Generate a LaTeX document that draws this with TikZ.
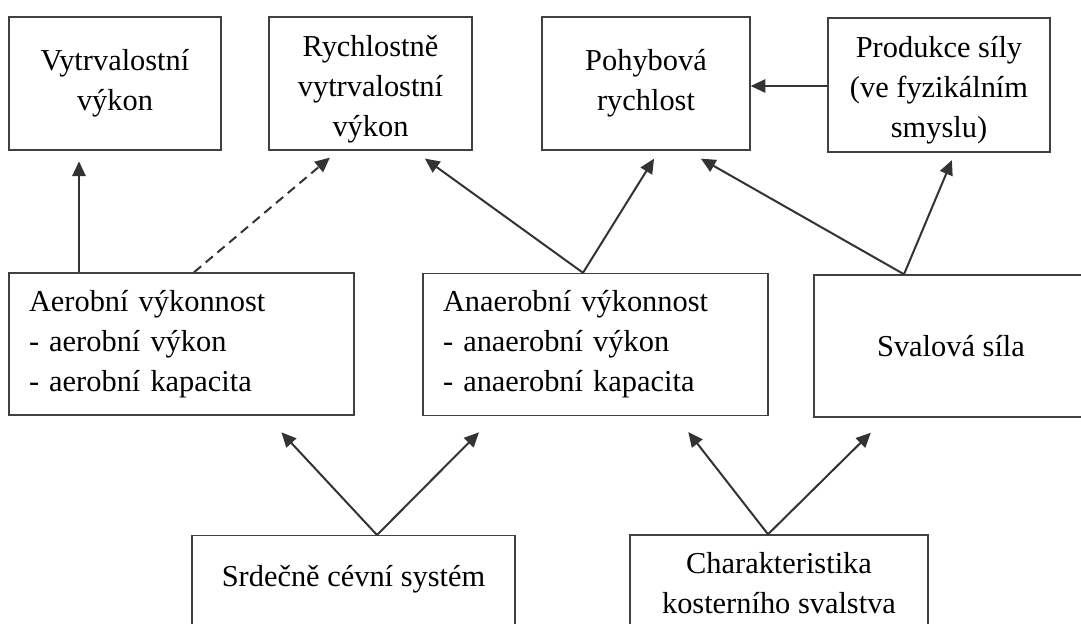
\documentclass[tikz,border=0pt]{standalone}
\usepackage{fontspec}
\setmainfont{Liberation Serif}
\usetikzlibrary{arrows.meta}

\begin{document}
\begin{tikzpicture}[x=0.75pt, y=-0.75pt,
        every node/.style={font=\fontsize{22.8}{30}\selectfont},
        box/.style={draw=black!75, line width=1.1pt, align=center, inner sep=0pt},
        listbox/.style={box, align=left, inner xsep=15pt, text width=228.75pt, minimum height=106.5pt},
        arr/.style={draw=black!80, line width=1.5pt, -{Triangle[length=11pt, width=10pt]}}]
                \clip (0,0) rectangle (1081,624);
                \fill[white] (0,0) rectangle (1081,624);

                % top row
                \node[box, minimum width=159pt, minimum height=99.75pt] (vytr) at (115,83.5) {Vytrvalostní\\výkon};
                \node[box, minimum width=152.25pt, minimum height=99.75pt] (rych) at (370.5,83.5) {\rule{0pt}{25pt}Rychlostně\\vytrvalostní\\výkon};
                \node[box, minimum width=156pt, minimum height=99.75pt] (pohyb) at (646,83.5) {Pohybová\\rychlost};
                \node[box, minimum width=166.5pt, minimum height=100.5pt] (prod) at (939,85) {\rule{0pt}{24pt}Produkce síly\\(ve fyzikálním\\smyslu)};

                % middle row
                \node[listbox] (aer) at (181.5,344) {Aerobní výkonnost\\- aerobní výkon\\- aerobní kapacita};
                \node[listbox] (anaer) at (595.5,344.5) {Anaerobní výkonnost\\- anaerobní výkon\\- anaerobní kapacita};
                \node[box, minimum width=205.5pt, minimum height=106.5pt] (sval) at (951,346) {Svalová síla};

                % bottom row
                \node[box, anchor=north, minimum width=242.25pt, text height=38.25pt, text depth=60pt] (srd) at (353.5,535) {Srdečně cévní systém};
                \node[box, minimum width=223.5pt, minimum height=72pt] (char) at (779,583) {Charakteristika\\kosterního svalstva};

                \draw[arr, shorten >=8pt] (aer.north -| 79,0) -- (vytr.south -| 79,0);
                \draw[arr, dash pattern=on 7pt off 4.5pt, shorten >=8pt] (aer.north -| 194,0) -- (rych.south -| 338,0);
                \draw[arr, shorten >=10pt] (anaer.north -| 583,0) -- (rych.south -| 414,0);
                \draw[arr, shorten >=7pt] (anaer.north -| 583,0) -- (pohyb.south -| 659,0);
                \draw[arr, shorten >=12pt] (sval.north -| 904,0) -- (pohyb.south -| 687,0);
                \draw[arr, shorten >=6pt] (sval.north -| 904,0) -- (prod.south -| 955,0);
                \draw[arr] (prod.west |- 0,86) -- (pohyb.east |- 0,86);

                \draw[arr, shorten >=17pt] (srd.north -| 377,0) -- (aer.south -| 266,0);
                \draw[arr, shorten >=17pt] (srd.north -| 377,0) -- (anaer.south -| 495,0);
                \draw[arr, shorten >=15pt] (char.north -| 768,0) -- (anaer.south -| 676,0);
                \draw[arr, shorten >=16pt] (char.north -| 768,0) -- (sval.south -| 886,0);
        \end{tikzpicture}
\end{document}
